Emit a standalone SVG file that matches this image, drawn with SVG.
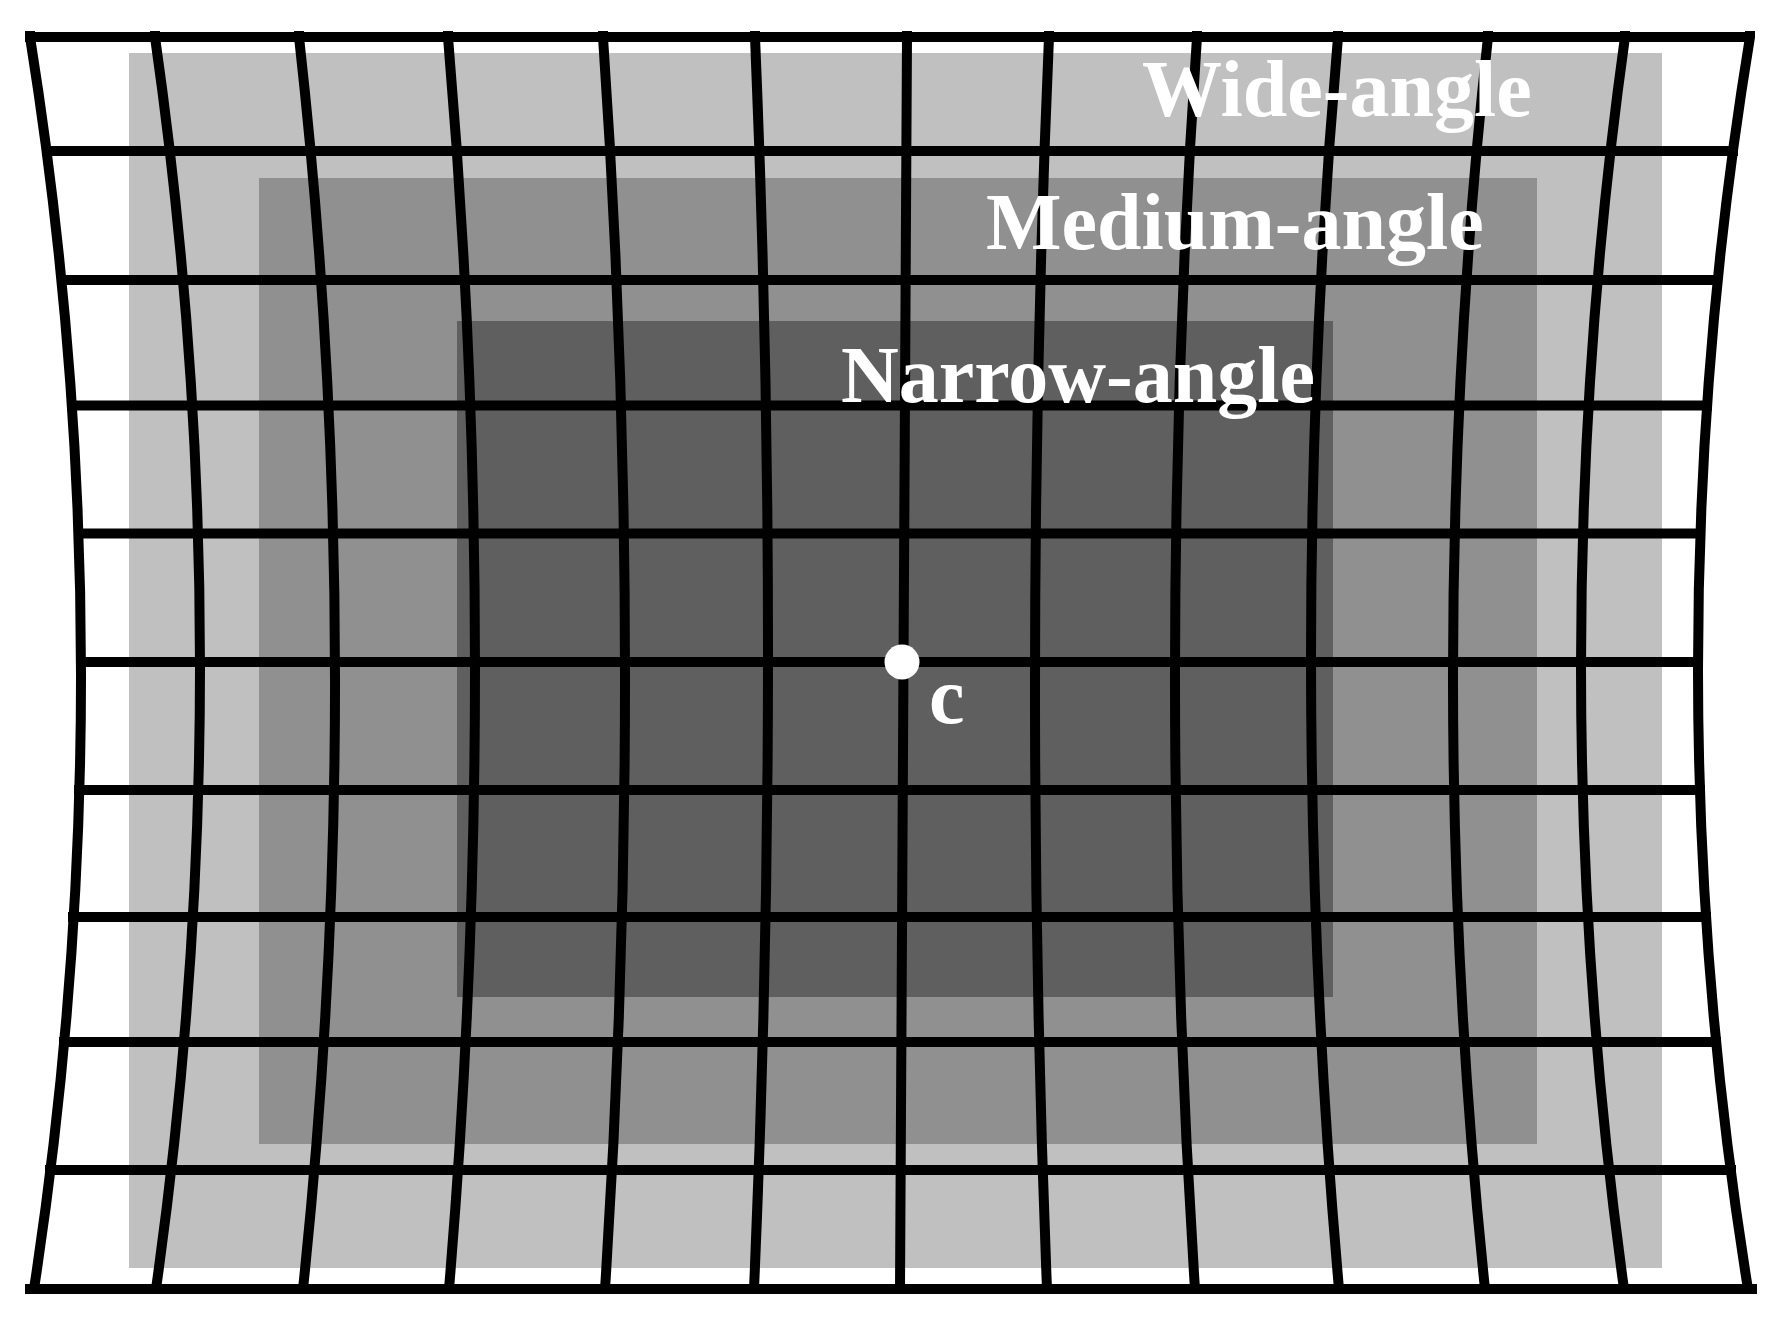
<svg xmlns="http://www.w3.org/2000/svg" width="1791" height="1326" viewBox="0 0 1791 1326">
  <style>
    .grid { fill: none; stroke: #000; stroke-width: 10; }
    .hl { stroke-linecap: square; }
    .lbl { font-family: "Liberation Serif", "Times New Roman", serif; font-weight: bold; font-size: 80px; fill: #fff; }
  </style>
  <rect x="0" y="0" width="1791" height="1326" fill="#fff"/>
  <g id="wide-angle">
    <rect x="129" y="53" width="1533" height="1215" fill="#c0c0c0"/>
  </g>
  <g id="medium-angle">
    <rect x="259" y="178" width="1278" height="966" fill="#909090"/>
  </g>
  <g id="narrow-angle">
    <rect x="457" y="321" width="876" height="676" fill="#5f5f5f"/>
  </g>
  <g id="grid-connectors" class="grid">
    <g id="vertical-lines">
      <path d="M30,31 L30,37 Q130,663 34,1289"/>
      <path d="M155,31 L155,37 Q244.5,663 156,1289"/>
      <path d="M299,31 L299,37 Q369,663 303,1289"/>
      <path d="M448,31 L448,37 Q501.5,663 449,1289"/>
      <path d="M603,31 L603,37 Q646,663 605,1289"/>
      <path d="M755,31 L755,37 Q781.5,663 754,1289"/>
      <path d="M907,31 L907,37 Q902.5,663 900,1289"/>
      <path d="M1049,31 L1049,37 Q1022,663 1047,1289"/>
      <path d="M1197,31 L1197,37 Q1154,663 1195,1289"/>
      <path d="M1338,31 L1338,37 Q1283.5,663 1339,1289"/>
      <path d="M1488,31 L1488,37 Q1419.5,663 1485,1289"/>
      <path d="M1625,31 L1625,37 Q1537.5,663 1624,1289"/>
      <path d="M1750,31 L1750,37 Q1647,663 1748,1289"/>
    </g>
    <g id="horizontal-lines" class="hl">
      <path d="M30,37 H1748"/>
      <path d="M47,151 H1733"/>
      <path d="M62,280 H1717"/>
      <path d="M72,405.5 H1707"/>
      <path d="M79,533.5 H1700"/>
      <path d="M81,662 H1698"/>
      <path d="M79,790 H1700"/>
      <path d="M73,917 H1706"/>
      <path d="M64,1042 H1716"/>
      <path d="M50,1170 H1731"/>
      <path d="M30,1289 H1752"/>
    </g>
  </g>
  <g id="labels">
    <text class="lbl" x="1142" y="116">Wide-angle</text>
    <text class="lbl" x="986" y="249">Medium-angle</text>
    <text class="lbl" x="841" y="402">Narrow-angle</text>
  </g>
  <g id="center-c">
    <circle cx="902" cy="662" r="17.5" fill="#fff"/>
    <text class="lbl" x="929" y="723">c</text>
  </g>
</svg>
